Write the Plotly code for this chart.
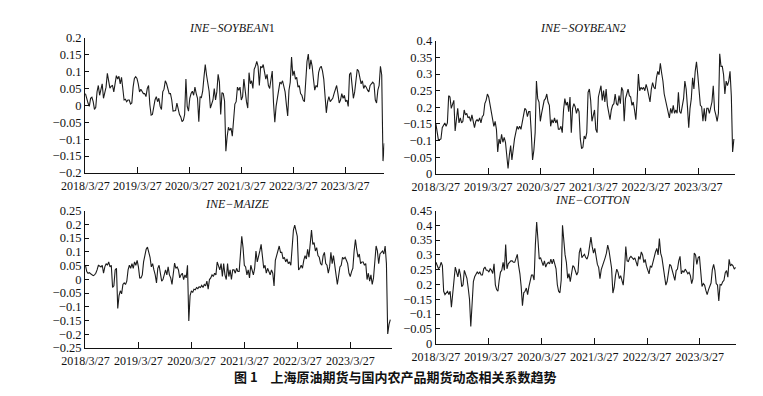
import plotly.graph_objects as go
import pandas as pd

# ---------------- data ----------------
START = "2018-03-27"
END_LEFT = "2023-12-27"
END_RIGHT = "2023-11-30"

soybean1 = [
    0.035, 0.016, 0.007, -0.003, 0.021, 0.024, 0.011, -0.012, -0.006, 0.04,
    0.059, 0.03, 0.054, 0.064, 0.021, 0.035, 0.054, 0.095, 0.069, 0.051,
    0.057, 0.059, 0.04, 0.069, 0.088, 0.078, 0.086, 0.064, 0.083, 0.05,
    0.016, 0.018, 0.011, 0.016, 0.016, 0.004, 0.007, 0.054, 0.08, 0.085,
    0.08, 0.064, 0.04, 0.048, 0.042, 0.035, 0.035, 0.026, 0.05, 0.059,
    0.002, -0.029, -0.027, -0.003, 0.016, 0.026, 0.011, 0.021, -0.003, -0.012,
    0.04, 0.048, 0.073, 0.064, 0.05, 0.035, 0.035, 0.016, -0.017, -0.015,
    -0.015, 0.007, -0.017, -0.027, -0.034, -0.048, -0.044, -0.027, 0.078, -0.003,
    -0.017, 0.021, 0.035, 0.042, 0.03, 0.054, 0.035, 0.021, -0.048, 0.026,
    0.023, 0.042, 0.083, 0.121, 0.09, 0.059, 0.042, -0.008, 0.007, 0.016,
    0.05, 0.016, 0.04, 0.092, 0.069, -0.027, 0.038, 0.035, 0.013, -0.136,
    -0.093, -0.065, -0.074, -0.067, -0.091, -0.034, 0.004, 0.011,
    0.054, 0.045, 0.054, 0.016, 0.026, 0.078, 0.04, 0.011, -0.008, 0.097,
    0.064, 0.073, 0.05, 0.107, 0.116, 0.13, 0.116, 0.059, 0.116, 0.111,
    0.121, 0.102, 0.078, 0.092, 0.059, 0.05, 0.078, 0.102, 0.007, -0.05,
    -0.003, 0.03, 0.045, 0.069, 0.064, 0.073, 0.054, 0.04, 0.002, -0.031,
    0.045, 0.069, 0.143, 0.088, 0.102, 0.078, 0.083, 0.054, 0.059, 0.035,
    0.03, 0.016, 0.011, 0.088, 0.13, 0.152, 0.107, 0.135, 0.116, 0.078,
    0.045, 0.059, 0.054, 0.097, 0.111, 0.116, 0.102, 0.078, 0.026, -0.022,
    0.011, 0.026, 0.011, 0.016, 0.021, 0.035, 0.05, 0.059, 0.035, 0.007,
    0.016, 0.035, 0.021, 0.03, 0.011, 0.016, -0.003, 0.092, 0.097, 0.059,
    0.021, 0.04, 0.078, 0.107, 0.102, 0.083, 0.064, 0.073, 0.05, 0.059,
    0.054, 0.045, 0.04, 0.059, 0.064, 0.069, 0.064, 0.016, 0.007, 0.045,
    0.059, 0.116, 0.09, -0.165, -0.112,
]

soybean2 = [
    0.153, 0.124, 0.103, 0.103, 0.105, 0.139, 0.148, 0.153, 0.143, 0.153,
    0.235, 0.231, 0.197, 0.211, 0.221, 0.129, 0.177, 0.197, 0.153, 0.168,
    0.153, 0.158, 0.192, 0.177, 0.182, 0.168, 0.172, 0.158, 0.177, 0.153,
    0.139, 0.158, 0.163, 0.158, 0.168, 0.153, 0.172, 0.177, 0.211, 0.221,
    0.24, 0.231, 0.206, 0.182, 0.158, 0.143, 0.158, 0.134, 0.066, 0.105,
    0.09, 0.119, 0.095, 0.11, 0.095, 0.042, 0.016, 0.056, 0.085, 0.042,
    0.085, 0.105, 0.124, 0.143, 0.134, 0.143, 0.134, 0.153, 0.168, 0.197,
    0.192, 0.172, 0.187, 0.187, 0.124, 0.042, 0.071, 0.124, 0.279, 0.226,
    0.216, 0.158, 0.182, 0.206, 0.221, 0.226, 0.24, 0.216, 0.206, 0.143,
    0.163, 0.153, 0.168, 0.153, 0.163, 0.134, 0.134, 0.143, 0.124, 0.192,
    0.226, 0.206, 0.216, 0.187, 0.231, 0.124, 0.197, 0.211, 0.202, 0.182,
    0.197, 0.187, 0.105, 0.076, 0.08, 0.114, 0.105, 0.124,
    0.245, 0.255, 0.221, 0.158, 0.177, 0.192, 0.134, 0.124, 0.231, 0.255,
    0.265, 0.221, 0.25, 0.216, 0.255, 0.206, 0.177, 0.163, 0.192, 0.206,
    0.211, 0.24, 0.211, 0.206, 0.235, 0.211, 0.26, 0.25, 0.158, 0.226,
    0.24, 0.255, 0.235, 0.231, 0.206, 0.216, 0.192, 0.163, 0.221, 0.30,
    0.25, 0.26, 0.255, 0.26, 0.25, 0.269, 0.255, 0.231, 0.216, 0.255,
    0.274, 0.26, 0.255, 0.289, 0.308, 0.298, 0.332, 0.303, 0.279, 0.24,
    0.221, 0.206, 0.192, 0.168, 0.197, 0.182, 0.206, 0.182, 0.192, 0.182,
    0.245, 0.187, 0.182, 0.206, 0.226, 0.279, 0.255, 0.202, 0.139, 0.197,
    0.226, 0.289, 0.255, 0.308, 0.337, 0.298, 0.245, 0.206, 0.202, 0.158,
    0.197, 0.158, 0.197, 0.197, 0.182, 0.206, 0.216, 0.265, 0.192, 0.177,
    0.158, 0.182, 0.361, 0.323, 0.323, 0.298, 0.24, 0.279, 0.265, 0.279,
    0.308, 0.235, 0.066, 0.105,
]

maize = [
    0.051, 0.028, 0.022, 0.024, 0.02, 0.016, 0.013, 0.016, 0.022, 0.034,
    0.051, 0.048, 0.045, 0.051, 0.022, 0.045, 0.057, 0.051, 0.063, 0.045,
    0.051, -0.03, -0.024, 0.034, 0.04, -0.106, -0.059, -0.042, -0.053, -0.019,
    -0.013, -0.019, -0.007, 0.034, 0.051, 0.04, 0.057, 0.04, 0.063, 0.051,
    0.069, 0.045, 0.005, 0.005, 0.016, 0.063, 0.092, 0.109, 0.117, 0.098,
    0.08, 0.045, 0.057, 0.034, 0.016, -0.013, 0.04, 0.051, 0.022, -0.007,
    -0.001, 0.016, 0.034, 0.016, 0.045, 0.016, 0.005, -0.019, 0.034, 0.059,
    0.04, 0.045, 0.034, 0.005, 0.016, 0.022, -0.001, 0.016, 0.005, 0.051,
    -0.152, -0.059, -0.042, -0.048, -0.036, -0.038, -0.03, -0.034, -0.027, -0.03,
    -0.022, -0.03, -0.019, -0.024, -0.007, -0.036, -0.001, 0.005, 0.016, 0.01,
    0.022, 0.016, 0.063, 0.051, 0.034, 0.057, 0.01, 0.057, 0.016, -0.001,
    0.057, 0.01, 0.034, -0.001, 0.034, 0.034, 0.022, 0.04, 0.028,
    0.028, 0.08, 0.156, 0.115, 0.051, 0.045, 0.016, 0.034, 0.005, 0.051,
    0.034, 0.016, 0.04, 0.103, 0.063, 0.08, 0.103, 0.127, 0.092, 0.04,
    0.051, 0.022, 0.04, 0.028, 0.016, 0.034, 0.022, -0.024, 0.069, 0.086,
    0.103, 0.121, 0.098, 0.098, 0.074, 0.08, 0.063, 0.074, 0.057, 0.063,
    0.051, 0.115, 0.179, 0.197, 0.179, 0.156, 0.034, 0.04, 0.051, 0.04,
    0.069, 0.086, 0.074, 0.109, 0.08, 0.138, 0.179, 0.127, 0.133, 0.103,
    0.115, 0.086, 0.08, 0.057, 0.051, 0.086, 0.098, 0.057, 0.051, 0.022,
    0.045, 0.098, 0.057, 0.086, 0.04, 0.016, -0.019, 0.022, 0.045, 0.051,
    0.08, 0.074, 0.08, 0.069, 0.057, 0.022, 0.01, 0.028, 0.04, 0.103,
    0.144, 0.109, 0.08, 0.092, 0.057, 0.063, 0.063, 0.051, 0.057, -0.001,
    0.022, -0.007, 0.016, -0.019, 0.005, 0.063, 0.121, 0.103, 0.057, 0.092,
    0.098, 0.103, 0.092, 0.121, 0.057, -0.199, -0.164, -0.147,
]

cotton = [
    0.275, 0.264, 0.253, 0.259, 0.275, 0.264, 0.177, 0.166, 0.172, 0.177,
    0.166, 0.177, 0.123, 0.177, 0.232, 0.259, 0.242, 0.226, 0.253, 0.232,
    0.193, 0.199, 0.248, 0.232, 0.221, 0.188, 0.15, 0.058, 0.16, 0.21,
    0.226, 0.237, 0.242, 0.237, 0.242, 0.232, 0.232, 0.253, 0.259, 0.248,
    0.248, 0.242, 0.253, 0.248, 0.237, 0.27, 0.199, 0.183, 0.177, 0.215,
    0.242, 0.248, 0.275, 0.248, 0.335, 0.253, 0.27, 0.275, 0.28, 0.28,
    0.275, 0.275, 0.286, 0.302, 0.264, 0.237, 0.193, 0.128, 0.172, 0.177,
    0.188, 0.166, 0.193, 0.21, 0.232, 0.232, 0.215, 0.335, 0.411, 0.351,
    0.286, 0.291, 0.275, 0.264, 0.28, 0.259, 0.27, 0.275, 0.27, 0.286,
    0.27, 0.286, 0.27, 0.253, 0.199, 0.177, 0.172, 0.215, 0.4, 0.346,
    0.3, 0.275, 0.221, 0.237, 0.21, 0.237, 0.264, 0.259, 0.248, 0.232,
    0.242, 0.308, 0.324, 0.291, 0.297, 0.302, 0.291, 0.286,
    0.30, 0.34, 0.36, 0.328, 0.306, 0.322, 0.29, 0.268, 0.258, 0.22,
    0.25, 0.262, 0.28, 0.29, 0.306, 0.333, 0.315, 0.29, 0.255, 0.171,
    0.19, 0.23, 0.252, 0.241, 0.22, 0.23, 0.21, 0.198, 0.25, 0.328,
    0.28, 0.278, 0.29, 0.295, 0.29, 0.285, 0.29, 0.275, 0.262, 0.295,
    0.285, 0.31, 0.3, 0.274, 0.285, 0.262, 0.245, 0.236, 0.263, 0.258,
    0.275, 0.295, 0.31, 0.322, 0.30, 0.355, 0.306, 0.29, 0.255, 0.214,
    0.198, 0.21, 0.245, 0.268, 0.263, 0.245, 0.225, 0.214, 0.247, 0.252,
    0.28, 0.295, 0.236, 0.247, 0.241, 0.252, 0.245, 0.236, 0.241, 0.23,
    0.203, 0.22, 0.306, 0.30, 0.268, 0.29, 0.295, 0.236, 0.193, 0.203,
    0.198, 0.18, 0.166, 0.182, 0.193, 0.205, 0.25, 0.268, 0.247, 0.203,
    0.198, 0.144, 0.2, 0.198, 0.209, 0.214, 0.24, 0.247, 0.225, 0.285,
    0.263, 0.268, 0.263, 0.252, 0.258,
]

titles = ["<i>INE\u2212SOYBEAN</i>1", "<i>INE\u2212SOYBEAN2</i>",
          "<i>INE\u2212MAIZE</i>", "<i>INE\u2212COTTON</i>"]

x_tick_dates = ["2018-03-27", "2019-03-27", "2020-03-27",
                "2021-03-27", "2022-03-27", "2023-03-27"]
x_tick_text = ["2018/3/27", "2019/3/27", "2020/3/27",
               "2021/3/27", "2022/3/27", "2023/3/27"]

y1_vals = [0.2, 0.15, 0.1, 0.05, 0, -0.05, -0.1, -0.15, -0.2]
y1_text = ["0.2", "0.15", "0.1", "0.05", "0", "\u22120.05", "\u22120.1", "\u22120.15", "\u22120.2"]
y2_vals = [0.4, 0.35, 0.3, 0.25, 0.2, 0.15, 0.1, 0.05, 0]
y2_text = ["0.4", "0.35", "0.3", "0.25", "0.2", "\u22120.15", "\u22120.1", "\u22120.05", "0"]
y3_vals = [0.25, 0.2, 0.15, 0.1, 0.05, 0, -0.05, -0.1, -0.15, -0.2, -0.25]
y3_text = ["0.25", "0.2", "0.15", "0.1", "0.05", "0", "\u22120.05", "\u22120.1",
           "\u22120.15", "\u22120.2", "\u22120.25"]
y4_vals = [0.45, 0.4, 0.35, 0.3, 0.25, 0.2, 0.15, 0.1, 0.05, 0]
y4_text = ["0.45", "0.4", "0.35", "0.3", "0.25", "0.2", "\u22120.15", "\u22120.1", "\u22120.05", "0"]

caption = "<b>图 1\u3000上海原油期货与国内农产品期货动态相关系数趋势</b>"

# ---------------- layout helpers ----------------
W, H = 763, 396


def dx(a, b):
    return [a / W, b / W]


def dy(top, bottom):
    return [1 - bottom / H, 1 - top / H]


panels = [
    dict(series=soybean1, end=END_LEFT, xr=["2018-03-24", "2023-12-27"], yr=[-0.2, 0.2],
         yv=y1_vals, yt=y1_text, xd=dx(63, 372), yd=dy(32, 172), title=titles[0], tx=215, ty=22),
    dict(series=soybean2, end=END_RIGHT, xr=["2018-03-26", "2023-12-07"], yr=[0, 0.4],
         yv=y2_vals, yt=y2_text, xd=dx(425, 734), yd=dy(35, 173), title=titles[1], tx=577, ty=22),
    dict(series=maize, end=END_LEFT, xr=["2018-03-24", "2024-01-08"], yr=[-0.25, 0.25],
         yv=y3_vals, yt=y3_text, xd=dx(63, 380), yd=dy(211, 353.5), title=titles[2], tx=220, ty=204),
    dict(series=cotton, end=END_RIGHT, xr=["2018-03-25", "2023-12-02"], yr=[0, 0.45],
         yv=y4_vals, yt=y4_text, xd=dx(425, 735), yd=dy(211, 349), title=titles[3], tx=587, ty=200),
]

font_serif = "Liberation Serif"
fig = go.Figure()
annotations = []
layout = dict(
    width=W, height=H,
    margin=dict(l=0, r=0, t=0, b=0),
    paper_bgcolor="white", plot_bgcolor="white",
    showlegend=False,
    font=dict(family=font_serif, size=12, color="#111"),
)

for i, p in enumerate(panels, start=1):
    dates = pd.date_range(START, p["end"], periods=len(p["series"]))
    sfx = "" if i == 1 else str(i)
    fig.add_trace(go.Scatter(
        x=dates, y=p["series"], mode="lines",
        line=dict(color="#1c1c1c", width=1.1),
        xaxis="x" + sfx, yaxis="y" + sfx, hoverinfo="skip",
    ))
    layout["xaxis" + sfx] = dict(
        domain=p["xd"], anchor="y" + sfx, type="date", range=p["xr"],
        tickmode="array", tickvals=x_tick_dates, ticktext=x_tick_text,
        tickangle=0, ticklabelstandoff=2,
        showline=True, linecolor="#111", linewidth=1,
        ticks="inside", ticklen=6, tickcolor="#111", tickwidth=1,
        showgrid=False, zeroline=False,
        tickfont=dict(family=font_serif, size=12, color="#111"),
    )
    layout["yaxis" + sfx] = dict(
        domain=p["yd"], anchor="x" + sfx, range=p["yr"],
        tickmode="array", tickvals=p["yv"], ticktext=p["yt"],
        showline=True, linecolor="#111", linewidth=1,
        ticks="inside", ticklen=4, tickcolor="#111", tickwidth=1,
        showgrid=False, zeroline=False,
        tickfont=dict(family=font_serif, size=12.5, color="#111"),
    )
    annotations.append(dict(
        text=p["title"], x=p["tx"] / W, y=1 - p["ty"] / H,
        xref="paper", yref="paper", xanchor="center", yanchor="middle",
        showarrow=False, font=dict(family=font_serif, size=12, color="#111"),
    ))

annotations.append(dict(
    text=caption, x=384 / W, y=1 - 383 / H, xref="paper", yref="paper",
    xanchor="center", yanchor="middle", showarrow=False,
    font=dict(family="Noto Sans CJK SC", size=13, color="#111"),
))
layout["annotations"] = annotations
fig.update_layout(**layout)
fig.write_html("out.html")
